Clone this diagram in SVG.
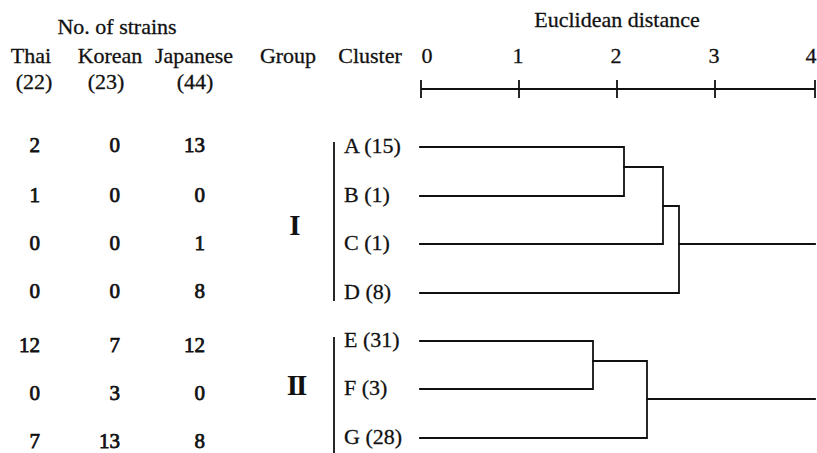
<svg xmlns="http://www.w3.org/2000/svg" width="817" height="453" viewBox="0 0 817 453">
  <style>
    text { font-family: "Liberation Serif", "Times New Roman", serif; font-size: 22px; fill: #111; stroke: #111; stroke-width: 0.3; }
    .num { text-anchor: end; font-size: 21px; stroke-width: 0.75; }
    .mid { text-anchor: middle; }
    .roman { font-size: 29px; text-anchor: middle; font-weight: bold; stroke-width: 0; }
    .ln { stroke: #111; stroke-width: 1.8; fill: none; stroke-linecap: square; }
  </style>
  <rect width="817" height="453" fill="#ffffff"/>

  <!-- column headers -->
  <g id="headers">
    <text x="117" y="34" class="mid">No. of strains</text>
    <text x="31" y="63" class="mid">Thai</text>
    <text x="110" y="63" class="mid">Korean</text>
    <text x="194" y="63" class="mid">Japanese</text>
    <text x="288" y="63" class="mid">Group</text>
    <text x="370" y="63" class="mid">Cluster</text>
    <text x="34" y="89" class="mid">(22)</text>
    <text x="106" y="89" class="mid">(23)</text>
    <text x="195" y="89" class="mid">(44)</text>
  </g>

  <!-- distance scale -->
  <g id="axis">
    <text x="617" y="27" class="mid">Euclidean distance</text>
    <text x="427" y="63" class="mid">0</text>
    <text x="518" y="63" class="mid">1</text>
    <text x="616" y="63" class="mid">2</text>
    <text x="714" y="63" class="mid">3</text>
    <text x="811" y="63" class="mid">4</text>
    <path class="ln" d="M421,89 H815 M421,81 V97 M519,81 V97 M617,81 V97 M715,81 V97 M815,81 V97"/>
  </g>

  <!-- strain counts per cluster -->
  <g id="counts">
    <text x="40" y="152" class="num">2</text><text x="120" y="152" class="num">0</text><text x="205" y="152" class="num">13</text>
    <text x="40" y="202" class="num">1</text><text x="120" y="202" class="num">0</text><text x="205" y="202" class="num">0</text>
    <text x="40" y="250" class="num">0</text><text x="120" y="250" class="num">0</text><text x="205" y="250" class="num">1</text>
    <text x="40" y="298" class="num">0</text><text x="120" y="298" class="num">0</text><text x="205" y="298" class="num">8</text>
    <text x="40" y="352" class="num">12</text><text x="120" y="352" class="num">7</text><text x="205" y="352" class="num">12</text>
    <text x="40" y="400" class="num">0</text><text x="120" y="400" class="num">3</text><text x="205" y="400" class="num">0</text>
    <text x="40" y="448" class="num">7</text><text x="120" y="448" class="num">13</text><text x="205" y="448" class="num">8</text>
  </g>

  <!-- groups -->
  <g id="group-I">
    <text x="295" y="235" class="roman">I</text>
    <path class="ln" d="M334,143 V300"/>
  </g>
  <g id="group-II">
    <text x="296" y="395" class="roman" letter-spacing="-2">II</text>
    <path class="ln" d="M334,338 V453"/>
  </g>

  <!-- clusters -->
  <g id="cluster-A"><text x="344" y="153">A (15)</text></g>
  <g id="cluster-B"><text x="344" y="202">B (1)</text></g>
  <g id="cluster-C"><text x="344" y="250">C (1)</text></g>
  <g id="cluster-D"><text x="344" y="299">D (8)</text></g>
  <g id="cluster-E"><text x="344" y="347">E (31)</text></g>
  <g id="cluster-F"><text x="344" y="395">F (3)</text></g>
  <g id="cluster-G"><text x="344" y="444">G (28)</text></g>

  <!-- dendrogram branches -->
  <g id="connectors">
    <path class="ln" d="M420,147 H624 V196 H420"/>
    <path class="ln" d="M624,167 H663 V244 H420"/>
    <path class="ln" d="M663,206 H679 V293 H420"/>
    <path class="ln" d="M679,244 H815"/>
    <path class="ln" d="M420,341 H593 V389 H420"/>
    <path class="ln" d="M593,361 H647 V438 H420"/>
    <path class="ln" d="M647,399 H815"/>
  </g>
</svg>
